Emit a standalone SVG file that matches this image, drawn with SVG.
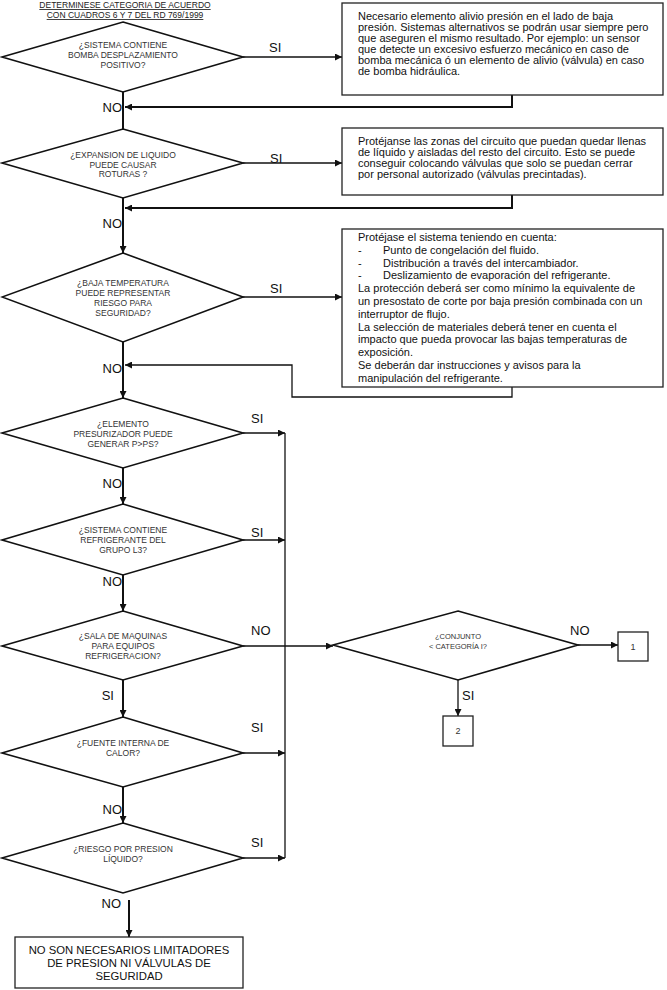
<svg xmlns="http://www.w3.org/2000/svg" width="667" height="990" viewBox="0 0 667 990">
<defs>
<style>
.d{fill:#fff;stroke:#111;stroke-width:1.6}
.b{fill:#fff;stroke:#222;stroke-width:1.3}
.dt{font-family:"Liberation Sans",Arial,sans-serif;font-size:8.5px;fill:#333;text-anchor:middle}
.bt{font-family:"Liberation Sans",Arial,sans-serif;font-size:11px;fill:#111}
.lb{font-family:"Liberation Sans",Arial,sans-serif;font-size:13px;fill:#111}
.ht{font-family:"Liberation Sans",Arial,sans-serif;font-size:8.5px;fill:#222;text-anchor:middle;text-decoration:underline}
.m{fill:none;stroke:#111;stroke-width:2}
.t{fill:none;stroke:#111;stroke-width:1.3}
</style>
<marker id="ah" viewBox="0 0 10 10" refX="10" refY="5" markerWidth="8" markerHeight="7" markerUnits="userSpaceOnUse" orient="auto">
<path d="M0,0 L10,5 L0,10 z" fill="#111"/>
</marker>
</defs>
<rect width="667" height="990" fill="#fff"/>

<g id="header">
<text class="ht" x="125" y="8">DETERMINESE CATEGORIA DE ACUERDO</text>
<text class="ht" x="125" y="18">CON CUADROS 6 Y 7 DEL RD 769/1999</text>
</g>

<g id="connectors">
<path class="m" d="M123,92 V129"/>
<path class="m" d="M123,198 V253" marker-end="url(#ah)"/>
<path class="m" d="M123,342 V398" marker-end="url(#ah)"/>
<path class="m" d="M123,468 V504" marker-end="url(#ah)"/>
<path class="m" d="M123,575 V611" marker-end="url(#ah)"/>
<path class="m" d="M123,680 V717" marker-end="url(#ah)"/>
<path class="m" d="M123,787 V823" marker-end="url(#ah)"/>
<path class="m" d="M129,900 V937" marker-end="url(#ah)"/>
<path class="t" d="M243,57 H342" marker-end="url(#ah)"/>
<path class="t" d="M243,163 H342" marker-end="url(#ah)"/>
<path class="t" d="M243,297 H342" marker-end="url(#ah)"/>
<path class="m" d="M512,95 V107 H125" marker-end="url(#ah)"/>
<path class="m" d="M512,195 V208 H125" marker-end="url(#ah)"/>
<path class="t" d="M512,387 V397 H292 V365 H125" marker-end="url(#ah)"/>
<path class="t" d="M243,433 H285" marker-end="url(#ah)"/>
<path class="t" d="M243,540 H285" marker-end="url(#ah)"/>
<path class="t" d="M243,753 H285" marker-end="url(#ah)"/>
<path class="t" d="M243,858 H285" marker-end="url(#ah)"/>
<path class="t" d="M285,433 V858"/>
<path class="t" d="M243,646 H333" marker-end="url(#ah)"/>
<path class="t" d="M578,645 H618" marker-end="url(#ah)"/>
<path class="t" d="M458,680 V716" marker-end="url(#ah)"/>
<text class="lb" x="269" y="52">SI</text>
<text class="lb" x="122" y="112" text-anchor="end">NO</text>
<text class="lb" x="270" y="163">SI</text>
<text class="lb" x="122" y="228" text-anchor="end">NO</text>
<text class="lb" x="270" y="293">SI</text>
<text class="lb" x="122" y="373" text-anchor="end">NO</text>
<text class="lb" x="251" y="423">SI</text>
<text class="lb" x="122" y="488" text-anchor="end">NO</text>
<text class="lb" x="251" y="537">SI</text>
<text class="lb" x="122" y="586" text-anchor="end">NO</text>
<text class="lb" x="251" y="635">NO</text>
<text class="lb" x="114" y="700" text-anchor="end">SI</text>
<text class="lb" x="251" y="732">SI</text>
<text class="lb" x="122" y="814" text-anchor="end">NO</text>
<text class="lb" x="251" y="847">SI</text>
<text class="lb" x="121" y="908" text-anchor="end">NO</text>
<text class="lb" x="570" y="635">NO</text>
<text class="lb" x="462" y="700">SI</text>
</g>

<g id="d1">
<polygon class="d" points="123,22 243,57 123,92 2,57"/>
<text class="dt" x="123" y="48">¿SISTEMA CONTIENE</text>
<text class="dt" x="123" y="58">BOMBA DESPLAZAMIENTO</text>
<text class="dt" x="123" y="68">POSITIVO?</text>
</g>

<g id="box1">
<rect class="b" x="342" y="3" width="321" height="92"/>
<text class="bt" x="358" y="19.5">Necesario elemento alivio presión en el lado de baja</text>
<text class="bt" x="358" y="30.6">presión. Sistemas alternativos se podrán usar siempre pero</text>
<text class="bt" x="358" y="41.7">que aseguren el mismo resultado. Por ejemplo: un sensor</text>
<text class="bt" x="358" y="52.8">que detecte un excesivo esfuerzo mecánico en caso de</text>
<text class="bt" x="358" y="63.9">bomba mecánica ó un elemento de alivio (válvula) en caso</text>
<text class="bt" x="358" y="75">de bomba hidráulica.</text>
</g>

<g id="d2">
<polygon class="d" points="123,129 243,163 123,198 2,163"/>
<text class="dt" x="123" y="158">¿EXPANSION DE LIQUIDO</text>
<text class="dt" x="123" y="167.5">PUEDE CAUSAR</text>
<text class="dt" x="123" y="177">ROTURAS ?</text>
</g>

<g id="box2">
<rect class="b" x="342" y="128" width="321" height="67"/>
<text class="bt" x="358" y="144.5">Protéjanse las zonas del circuito que puedan quedar llenas</text>
<text class="bt" x="358" y="155.6">de líquido y aisladas del resto del circuito. Esto se puede</text>
<text class="bt" x="358" y="166.7">conseguir colocando válvulas que solo se puedan cerrar</text>
<text class="bt" x="358" y="177.8">por personal autorizado (válvulas precintadas).</text>
</g>

<g id="d3">
<polygon class="d" points="123,253 243,297 123,342 2,297"/>
<text class="dt" x="123" y="286">¿BAJA TEMPERATURA</text>
<text class="dt" x="123" y="296">PUEDE REPRESENTAR</text>
<text class="dt" x="123" y="306">RIESGO PARA</text>
<text class="dt" x="123" y="316">SEGURIDAD?</text>
</g>

<g id="box3">
<rect class="b" x="342" y="229" width="321" height="158"/>
<text class="bt" x="358" y="241">Protéjase el sistema teniendo en cuenta:</text>
<text class="bt" x="358" y="253.8">-</text><text class="bt" x="383" y="253.8">Punto de congelación del fluido.</text>
<text class="bt" x="358" y="266.6">-</text><text class="bt" x="383" y="266.6">Distribución a través del intercambiador.</text>
<text class="bt" x="358" y="279.4">-</text><text class="bt" x="383" y="279.4">Deslizamiento de evaporación del refrigerante.</text>
<text class="bt" x="358" y="292.2">La protección deberá ser como mínimo la equivalente de</text>
<text class="bt" x="358" y="305">un presostato de corte por baja presión combinada con un</text>
<text class="bt" x="358" y="317.8">interruptor de flujo.</text>
<text class="bt" x="358" y="330.6">La selección de materiales deberá tener en cuenta el</text>
<text class="bt" x="358" y="343.4">impacto que pueda provocar las bajas temperaturas de</text>
<text class="bt" x="358" y="356.2">exposición.</text>
<text class="bt" x="358" y="369">Se deberán dar instrucciones y avisos para la</text>
<text class="bt" x="358" y="381.8">manipulación del refrigerante.</text>
</g>

<g id="d4">
<polygon class="d" points="123,398 243,433 123,468 2,433"/>
<text class="dt" x="123" y="427">¿ELEMENTO</text>
<text class="dt" x="123" y="437">PRESURIZADOR PUEDE</text>
<text class="dt" x="123" y="447">GENERAR P&gt;PS?</text>
</g>

<g id="d5">
<polygon class="d" points="123,504 243,540 123,575 2,540"/>
<text class="dt" x="123" y="533">¿SISTEMA CONTIENE</text>
<text class="dt" x="123" y="543">REFRIGERANTE  DEL</text>
<text class="dt" x="123" y="553">GRUPO L3?</text>
</g>

<g id="d6">
<polygon class="d" points="123,611 243,646 123,680 2,646"/>
<text class="dt" x="123" y="639">¿SALA DE MAQUINAS</text>
<text class="dt" x="123" y="649">PARA EQUIPOS</text>
<text class="dt" x="123" y="659">REFRIGERACION?</text>
</g>

<g id="d7">
<polygon class="d" points="458,611 578,645 458,680 333,645"/>
<text class="dt" x="458" y="639" style="font-size:7.5px">¿CONJUNTO</text>
<text class="dt" x="458" y="649" style="font-size:7.5px">&lt; CATEGORÍA I?</text>
</g>

<g id="box-1">
<rect class="b" x="618" y="632" width="30" height="29"/>
<text class="dt" x="633" y="650" style="font-size:9px">1</text>
</g>

<g id="box-2">
<rect class="b" x="443" y="716" width="30" height="30"/>
<text class="dt" x="458" y="734" style="font-size:9px">2</text>
</g>

<g id="d8">
<polygon class="d" points="123,717 243,753 123,787 2,753"/>
<text class="dt" x="123" y="746">¿FUENTE INTERNA DE</text>
<text class="dt" x="123" y="756">CALOR?</text>
</g>

<g id="d9">
<polygon class="d" points="123,823 243,858 123,893 2,858"/>
<text class="dt" x="123" y="852">¿RIESGO POR PRESION</text>
<text class="dt" x="123" y="862">LÍQUIDO?</text>
</g>

<g id="end">
<rect class="b" x="15" y="937" width="228" height="51"/>
<text class="dt" x="129" y="954" style="font-size:11.3px;fill:#111">NO SON NECESARIOS LIMITADORES</text>
<text class="dt" x="129" y="967" style="font-size:11.3px;fill:#111">DE PRESION NI VÁLVULAS DE</text>
<text class="dt" x="129" y="980" style="font-size:11.3px;fill:#111">SEGURIDAD</text>
</g>
</svg>
